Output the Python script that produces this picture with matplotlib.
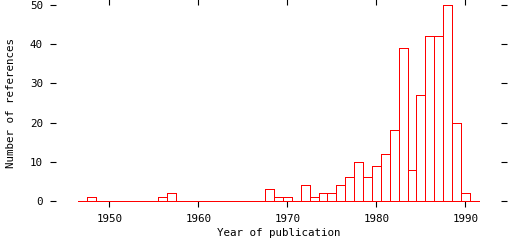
import matplotlib
matplotlib.use("Agg")
import matplotlib.pyplot as plt

years = list(range(1947, 1992))
counts_map = {1948: 1, 1956: 1, 1957: 2, 1968: 3, 1969: 1, 1970: 1,
              1972: 4, 1973: 1, 1974: 2, 1975: 2, 1976: 4, 1977: 6,
              1978: 10, 1979: 6, 1980: 9, 1981: 12, 1982: 18, 1983: 39,
              1984: 8, 1985: 27, 1986: 42, 1987: 42, 1988: 50, 1989: 20,
              1990: 2}
counts = [counts_map.get(y, 0) for y in years]
xticks = [1950, 1960, 1970, 1980, 1990]
yticks = [0, 10, 20, 30, 40, 50]

plt.rcParams['font.family'] = ['DejaVu Sans Mono']
fig = plt.figure(figsize=(5.12, 2.4), dpi=100)
ax = fig.add_axes([56/512, 39/240, 445/512, 196/240])
ax.hlines(0, years[0] - 0.5, years[-1] + 0.5, color='#ff0000',
          linewidth=0.72, antialiased=False, clip_on=False, zorder=3)
ax.bar(years, counts, width=1.0, facecolor='none', edgecolor='#ff0000',
       linewidth=0.72, antialiased=False, clip_on=False, zorder=3)
ax.set_xlim(1944, 1994)
ax.set_ylim(0, 50)
for s in ax.spines.values():
    s.set_visible(False)
ax.set_xticks(xticks)
ax.set_yticks(yticks)
ax.tick_params(direction='out', length=4, width=0.8, color='black',
               labelsize=7.8, pad=5.5,
               top=True, right=True, labeltop=False, labelright=False)
ax.set_xlabel('Year of publication', fontsize=7.8, labelpad=3)
ax.set_ylabel('Number of references', fontsize=7.8, labelpad=10)
fig.savefig('out.png', dpi=100)
